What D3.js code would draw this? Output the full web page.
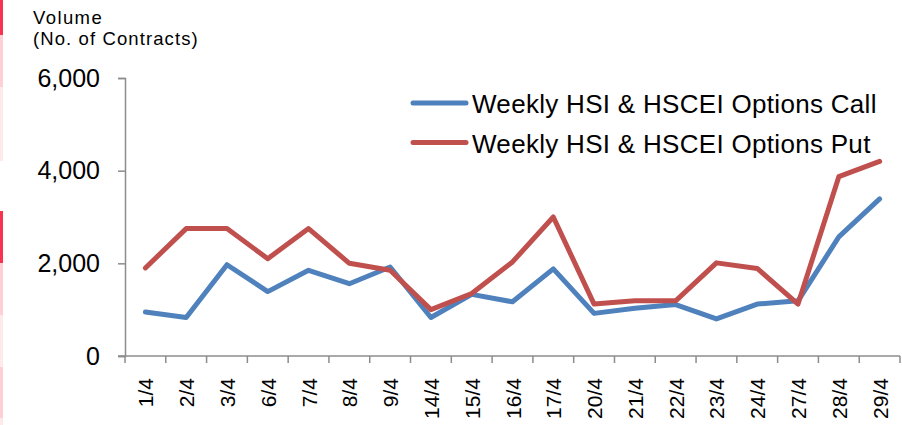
<!DOCTYPE html>
<html>
<head>
<meta charset="utf-8">
<script src="https://cdn.jsdelivr.net/npm/d3@7"></script>
<style>
  body { margin: 0; background: #fff; }
  svg { font-family: "Liberation Sans", Arial, sans-serif; }
</style>
</head>
<body>
<script>
var dates = ['1/4', '2/4', '3/4', '6/4', '7/4', '8/4', '9/4', '14/4', '15/4', '16/4',
  '17/4', '20/4', '21/4', '22/4', '23/4', '24/4', '27/4', '28/4', '29/4'];
var callVol = [950, 830, 1970, 1390, 1850, 1560, 1920, 830, 1330, 1170,
  1880, 920, 1030, 1110, 800, 1120, 1190, 2570, 3390];
var putVol = [1900, 2750, 2750, 2100, 2750, 2000, 1850, 1000, 1350, 2030,
  3000, 1120, 1190, 1190, 2010, 1890, 1120, 3870, 4200];
var yTicks = [0, 2000, 4000, 6000];
var titleLines = ['Volume', '(No. of Contracts)'];
var seriesNames = ['Weekly HSI & HSCEI Options Call', 'Weekly HSI & HSCEI Options Put'];
var colors = ['#4f81bd', '#c0504d'];

// pink strips on the left edge
var strips = [
  { y0: 0, y1: 35, c: '#f8324f' },
  { y0: 35, y1: 87, c: '#fdd0d3' },
  { y0: 87, y1: 161, c: '#feeaeb' },
  { y0: 211, y1: 263, c: '#f8324f' },
  { y0: 263, y1: 315, c: '#fdd0d3' },
  { y0: 315, y1: 367, c: '#feeaeb' },
  { y0: 367, y1: 418, c: '#fdd0d3' },
  { y0: 418, y1: 425, c: '#feeaeb' }
];

var width = 902;
var height = 425;
var margin = { left: 125, right: 2, top: 78, bottom: 69 };

var svg = d3.select('body').append('svg')
  .attr('width', width)
  .attr('height', height);

svg.selectAll('rect.strip')
  .data(strips)
  .enter().append('rect')
  .attr('class', 'strip')
  .attr('x', 0)
  .attr('y', function(d) { return d.y0; })
  .attr('width', 3)
  .attr('height', function(d) { return d.y1 - d.y0; })
  .attr('fill', function(d) { return d.c; });

var xScale = d3.scaleBand()
  .domain(dates)
  .range([margin.left, width - margin.right]);

var yScale = d3.scaleLinear()
  .domain([0, 6000])
  .range([height - margin.bottom, margin.top]);

// y axis
var yAxis = d3.axisLeft(yScale)
  .tickValues(yTicks)
  .tickFormat(d3.format(','))
  .tickSizeInner(7)
  .tickSizeOuter(7)
  .tickPadding(18);

var gy = svg.append('g')
  .attr('transform', 'translate(' + margin.left + ',0)')
  .call(yAxis);
gy.selectAll('path, line').attr('stroke', '#8c8c8c').attr('stroke-width', 1.5);
gy.selectAll('text').attr('font-size', 25).attr('fill', '#000');

// x axis with ticks on band boundaries
var gx = svg.append('g')
  .attr('transform', 'translate(0,' + (height - margin.bottom) + ')');
gx.append('line')
  .attr('x1', margin.left - 7)
  .attr('x2', width - margin.right)
  .attr('stroke', '#8c8c8c')
  .attr('stroke-width', 1.5);
var bounds = dates.map(function(d) { return xScale(d); }).concat([xScale.range()[1]]);
gx.selectAll('line.tick')
  .data(bounds)
  .enter().append('line')
  .attr('class', 'tick')
  .attr('x1', function(d) { return d; })
  .attr('x2', function(d) { return d; })
  .attr('y1', 0)
  .attr('y2', 7)
  .attr('stroke', '#8c8c8c')
  .attr('stroke-width', 1.5);
gx.selectAll('text')
  .data(dates)
  .enter().append('text')
  .attr('transform', function(d) {
    return 'translate(' + (xScale(d) + xScale.bandwidth() / 2 + 8) + ',22) rotate(-90)';
  })
  .attr('text-anchor', 'end')
  .attr('font-size', 21)
  .text(function(d) { return d; });

// lines
var line = d3.line()
  .x(function(d, i) { return xScale(dates[i]) + xScale.bandwidth() / 2; })
  .y(function(d) { return yScale(d); });

[callVol, putVol].forEach(function(vals, k) {
  svg.append('path')
    .datum(vals)
    .attr('fill', 'none')
    .attr('stroke', colors[k])
    .attr('stroke-width', 5)
    .attr('stroke-linejoin', 'round')
    .attr('stroke-linecap', 'round')
    .attr('d', line);
});

// y title
svg.selectAll('text.title')
  .data(titleLines)
  .enter().append('text')
  .attr('class', 'title')
  .attr('x', 33)
  .attr('y', function(d, i) { return 24 + i * 21; })
  .attr('font-size', 18.5)
  .attr('letter-spacing', function(d, i) { return i ? 1.1 : 1.4; })
  .text(function(d) { return d; });

// legend
var legend = svg.selectAll('g.legend')
  .data(seriesNames)
  .enter().append('g')
  .attr('class', 'legend')
  .attr('transform', function(d, i) { return 'translate(413,' + (103 + i * 39.5) + ')'; });
legend.append('line')
  .attr('x1', 0)
  .attr('x2', 53)
  .attr('stroke', function(d, i) { return colors[i]; })
  .attr('stroke-width', 5)
  .attr('stroke-linecap', 'round');
legend.append('text')
  .attr('x', 59)
  .attr('y', 10)
  .attr('font-size', 26)
  .attr('letter-spacing', 0.3)
  .text(function(d) { return d; });
</script>
</body>
</html>
